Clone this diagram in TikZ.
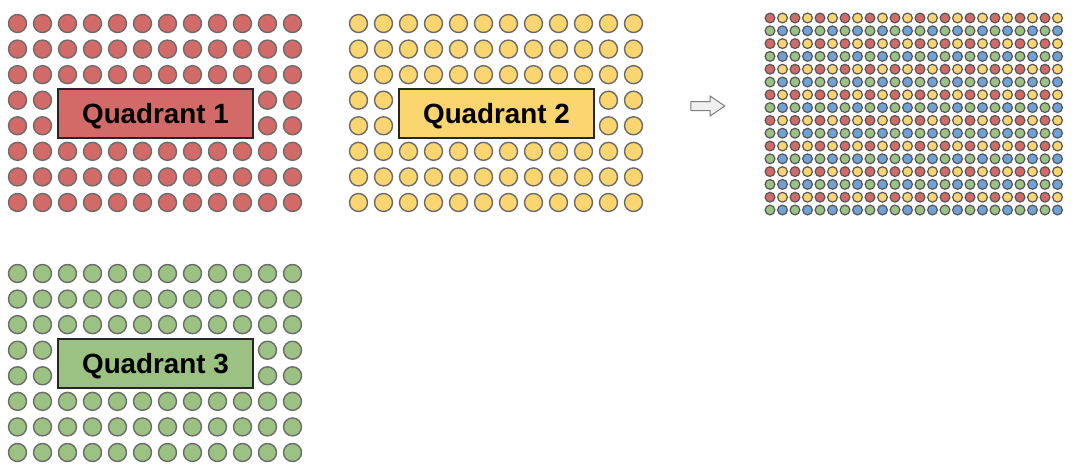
\documentclass[tikz,border=0pt]{standalone}
\usepackage{fontspec}
\setmainfont{Liberation Sans}
\usepackage{tikz}
\usetikzlibrary{shapes.arrows}

\definecolor{qred}{HTML}{D26B67}
\definecolor{qyellow}{HTML}{FBD56F}
\definecolor{qgreen}{HTML}{9CC283}
\definecolor{qblue}{HTML}{6FA3D8}
\definecolor{rim}{HTML}{6B6B6B}

\begin{document}
\begin{tikzpicture}[x=1pt,y=-1pt,
    seat/.style={circle,draw=rim,line width=1.4pt,minimum size=18pt,inner sep=0pt},
    tiny/.style={circle,draw=rim!80!black,line width=1.2pt,minimum size=9.8pt,inner sep=0pt},
    tag/.style={draw=black!85,line width=1.4pt,minimum width=195pt,minimum height=49pt,
      text height=20pt,text depth=0pt,
      font=\bfseries\fontsize{27.8}{30}\selectfont}]
  \useasboundingbox (0,0) rectangle (1074,474);

  % the three quadrants
  \foreach \k/\col/\xo/\yo in {1/qred/0/0, 2/qyellow/341/0, 3/qgreen/0/250} {
    \foreach \r in {1,...,8}
      \foreach \c in {1,...,12} {
        \pgfmathtruncatemacro\hid{and(or(\r==4,\r==5),and(\c>2,\c<11))}
        \ifnum\hid=0
          \node[seat,fill=\col] (q\k-\r-\c) at ({\xo+17.5+25*(\c-1)},{\yo+23.5+25.57*(\r-1)}) {};
        \fi
      }
    \node[tag,fill=\col] (q\k) at (\xo+155.5,\yo+113.5) {Quadrant \k};
  }

  \node[single arrow,draw=gray,fill=gray!12,line width=1pt,minimum height=34pt,
    inner xsep=0pt,inner ysep=4pt,single arrow head extend=5.5pt,
    single arrow tip angle=68] (go) at (704.5,106) {};

  % interleaved result
  \foreach \r in {1,...,16}
    \foreach \c in {1,...,24} {
      \pgfmathtruncatemacro\kind{2*mod(\r+1,2)+mod(\c+1,2)}
      \ifcase\kind \def\shade{qred}\or \def\shade{qyellow}\or \def\shade{qgreen}\or \def\shade{qblue}\fi
      \node[tiny,fill=\shade] (mix-\r-\c) at ({770+12.5*(\c-1)},{18+12.8*(\r-1)}) {};
    }
\end{tikzpicture}
\end{document}
